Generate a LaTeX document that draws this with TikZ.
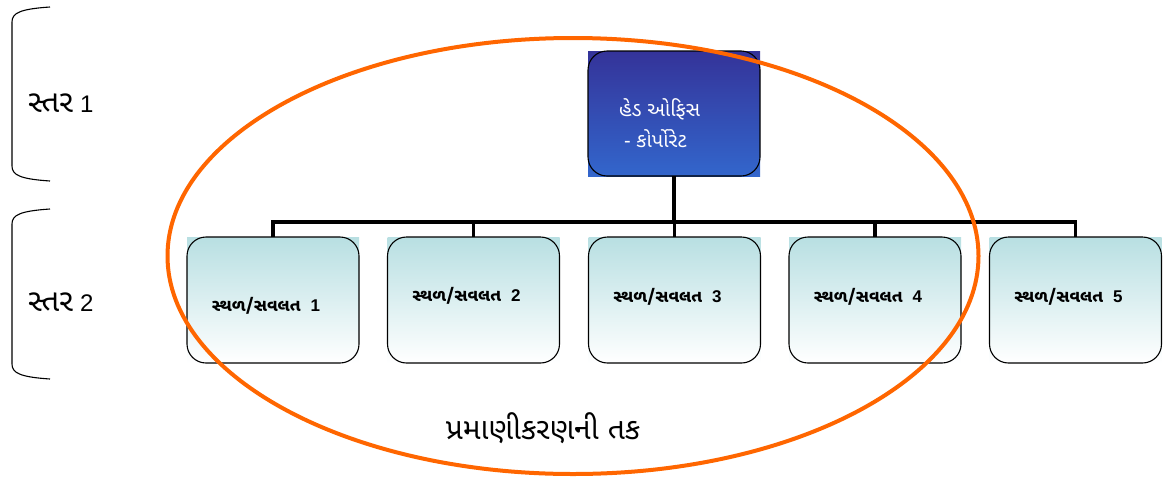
\documentclass[tikz,border=0pt]{standalone}
\usepackage{fontspec}
\setmainfont{Liberation Sans}
\newfontfamily\guj[Script=Gujarati]{Noto Sans Gujarati UI}
\usetikzlibrary{shapes.geometric,calc}
\definecolor{headtop}{HTML}{343399}
\definecolor{headbot}{HTML}{3366CC}
\definecolor{childtop}{HTML}{B8DFE2}
\definecolor{orangeline}{HTML}{FF6600}
\newcommand{\gujsz}[2]{{\guj\fontsize{#1}{#1}\selectfont #2}}
\tikzset{
  headbox/.style={rectangle, minimum width=172pt, minimum height=125pt, inner sep=0pt, outer sep=0pt, top color=headtop, bottom color=headbot},
  childbox/.style={rectangle, minimum width=172pt, minimum height=126pt, inner sep=0pt, outer sep=0pt, top color=childtop, bottom color=white},
  boxborder/.style={draw=black, line width=1.1pt, rounded corners=19pt},
  conn/.style={draw=black, line width=3.5pt},
  childlbl/.style={font=\bfseries\fontsize{17}{19}\selectfont, inner sep=0pt},
  headlbl/.style={font=\fontsize{20}{31}\selectfont, text=white, align=left, inner sep=0pt},
  levellbl/.style={font=\fontsize{24}{26}\selectfont, inner sep=0pt, anchor=west},
  bracket/.style={draw=black, line width=1.1pt},
  opportunity/.style={ellipse, draw=orangeline, line width=4pt, inner sep=0pt, minimum width=811pt, minimum height=436pt},
  opplbl/.style={font=\fontsize{30}{34}\selectfont, inner sep=0pt}
}
\begin{document}
\begin{tikzpicture}[x=1pt,y=-1pt]
\useasboundingbox (0,0) rectangle (1166,477);
% level brackets
\draw[bracket] (50,7) .. controls (20,9) and (12,13) .. (12,22) -- (12,166) .. controls (12,175) and (20,179) .. (50,181);
\draw[bracket] (50,209) .. controls (20,211) and (12,215) .. (12,224) -- (12,364) .. controls (12,373) and (20,377) .. (50,379);
\node[levellbl] (lev1) at (28,103) {\gujsz{31}{સ્તર}\hspace{7pt}1};
\node[levellbl] (lev2) at (28,302) {\gujsz{31}{સ્તર}\hspace{7pt}2};
% head office
\node[headbox] (head) at (674,113.5) {};
\draw[boxborder] (head.north west) rectangle (head.south east);
\node[headlbl, anchor=west] (headtext) at (619,123) {{\guj હેડ ઓફિસ}\\\hspace{5pt}- {\guj કોર્પોરેટ}};
% children
\node[childbox] (c1) at (273,300) {};
\node[childbox] (c2) at (473.5,300) {};
\node[childbox] (c3) at (674.5,300) {};
\node[childbox] (c4) at (875,300) {};
\node[childbox] (c5) at (1075.5,300) {};
\foreach \i in {1,...,5} {\draw[boxborder] (c\i.north west) rectangle (c\i.south east);}
\node[childlbl] (l1) at (266,306) {\gujsz{17}{સ્થળ/સવલત}\hspace{10pt}1};
\node[childlbl] (l2) at (466.5,296) {\gujsz{17}{સ્થળ/સવલત}\hspace{10pt}2};
\node[childlbl] (l3) at (667.5,297) {\gujsz{17}{સ્થળ/સવલત}\hspace{10pt}3};
\node[childlbl] (l4) at (868,297) {\gujsz{17}{સ્થળ/સવલત}\hspace{10pt}4};
\node[childlbl] (l5) at (1068.5,297) {\gujsz{17}{સ્થળ/સવલત}\hspace{10pt}5};
% connectors
\coordinate (bus) at (0,222);
\draw[conn] (head.south) -- (head.south |- bus);
\draw[conn, line cap=rect] (c1.north |- bus) -- (c5.north |- bus);
\foreach \i in {1,...,5} {\draw[conn] (c\i.north |- bus) -- (c\i.north);}
% opportunity ellipse
\node[opportunity] (opp) at (573,256) {};
\node[opplbl] (opptext) at (543,428) {\guj પ્રમાણીકરણની તક};
\end{tikzpicture}
\end{document}
